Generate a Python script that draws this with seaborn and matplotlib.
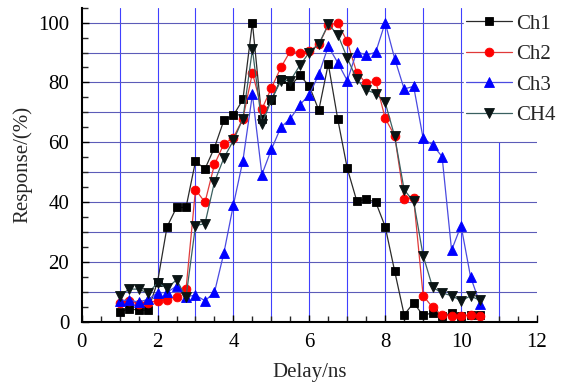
import numpy as np
import pandas as pd
import matplotlib
matplotlib.use("Agg")
import matplotlib.pyplot as plt
from matplotlib.ticker import MultipleLocator
import seaborn as sns

delay = [1.0, 1.25, 1.5, 1.75, 2.0, 2.25, 2.5, 2.75, 3.0, 3.25, 3.5, 3.75,
         4.0, 4.25, 4.5, 4.75, 5.0, 5.25, 5.5, 5.75, 6.0, 6.25, 6.5, 6.75,
         7.0, 7.25, 7.5, 7.75, 8.0, 8.25, 8.5, 8.75, 9.0, 9.25, 9.5, 9.75,
         10.0, 10.25, 10.5]

ch1 = [3.2, 4.4, 3.8, 3.9, 13.3, 31.7, 38.2, 38.2, 53.6, 51.1, 58.2, 67.4,
       69.0, 74.3, 100, 67.8, 74.1, 81.2, 78.8, 82.4, 78.8, 70.7, 86.2, 67.7,
       51.3, 40.4, 40.9, 40.0, 31.8, 16.9, 2.3, 6.3, 2.1, 3.0, 2.0, 2.9,
       2.0, 2.2, 2.4]
ch2 = [6.4, 6.8, 6.0, 6.4, 7.0, 7.4, 8.3, 10.8, 44.2, 39.9, 52.6, 59.5,
       61.5, 67.9, 83.2, 71.1, 78.1, 85.0, 90.5, 89.8, 90.5, 92.7, 99.2, 99.8,
       93.7, 83.3, 79.7, 80.5, 68.0, 62.2, 41.0, 41.3, 8.7, 4.8, 2.2, 2.0,
       1.8, 2.3, 1.9]
ch3 = [7.0, 7.3, 6.5, 7.5, 9.6, 9.8, 11.9, 8.3, 8.9, 7.0, 9.8, 23.1,
       39.1, 53.9, 76.0, 49.2, 57.6, 65.0, 67.9, 72.5, 75.9, 82.7, 92.1, 86.6,
       80.6, 90.3, 89.1, 90.1, 100, 88.0, 77.8, 78.7, 61.3, 59.1, 55.2, 23.9,
       32.1, 15.0, 6.0]
ch4 = [8.6, 10.9, 10.9, 9.5, 13.0, 11.2, 14.0, 8.2, 32.1, 32.8, 46.7, 54.8,
       60.6, 67.9, 91.1, 66.1, 74.1, 80.6, 80.6, 85.7, 90.0, 92.8, 99.4, 96.0,
       88.2, 81.0, 77.5, 76.3, 73.3, 62.0, 44.1, 40.2, 22.1, 11.5, 9.6, 8.7,
       7.0, 8.6, 7.1]

series_names = ["Ch1", "Ch2", "Ch3", "CH4"]
x_ticks = [0, 2, 4, 6, 8, 10, 12]
y_ticks = [0, 20, 40, 60, 80, 100]
x_grid = [1, 2, 3, 4, 5, 6, 7, 8, 9, 10, 11]
y_grid = [10, 20, 30, 40, 50, 60, 70, 80, 90, 100]

sns.set_style("ticks")
plt.rcParams["font.family"] = ["Liberation Serif", "DejaVu Serif"]
plt.rcParams["mathtext.fontset"] = "stix"

fig = plt.figure(figsize=(5.7, 3.86), dpi=100)
ax = fig.add_axes([0.1433, 0.1666, 0.7987, 0.8135])

# grid lines
for xv in x_grid:
    top = 1.0 if xv <= 10 else 60 / 105
    ax.axvline(xv, ymin=0, ymax=top, color="#4040ff", lw=0.8, zorder=0.5)
for yv in y_grid:
    ax.axhline(yv, color="#5c5cb8", lw=0.8, zorder=0.5)

styles = [
    dict(marker="s", color="#2a2a2a", mfc="black", mec="black", ms=5.5),
    dict(marker="o", color="#e03a3a", mfc="#ff0000", mec="#ff0000", ms=6.3),
    dict(marker="^", color="#4a4ae0", mfc="#0000ff", mec="#0000ff", ms=7.2),
    dict(marker="v", color="#3a6060", mfc="#0a1414", mec="#0a1414", ms=7.2),
]
for name, vals, st in zip(series_names, [ch1, ch2, ch3, ch4], styles):
    df = pd.DataFrame({"Delay": delay, "Response": vals})
    sns.lineplot(data=df, x="Delay", y="Response", ax=ax, label=name,
                 color=st["color"], marker=st["marker"],
                 markerfacecolor=st["mfc"], markeredgecolor=st["mec"],
                 markersize=st["ms"], markeredgewidth=0.6, linewidth=0.9)

ax.set_xlim(0, 12)
ax.set_ylim(0, 105)
ax.set_xticks(x_ticks)
ax.set_yticks(y_ticks)
ax.xaxis.set_minor_locator(MultipleLocator(0.5))
ax.yaxis.set_minor_locator(MultipleLocator(5))
ax.tick_params(which="major", direction="in", length=5, width=1.0,
               labelsize=15, pad=9, colors="black")
ax.tick_params(which="minor", direction="in", length=4, width=1.0)
ax.tick_params(axis="x", pad=8)

for s in ["top", "right"]:
    ax.spines[s].set_visible(False)
for s in ["left", "bottom"]:
    ax.spines[s].set_linewidth(1.5)
    ax.spines[s].set_color("black")

ax.set_xlabel("Delay/ns", fontsize=15, labelpad=8)
ax.set_ylabel("Response/(%)", fontsize=15, labelpad=4)

leg = ax.legend(loc="upper left", bbox_to_anchor=(463.7 / 570, 1 - 12 / 386),
                bbox_transform=fig.transFigure, borderaxespad=0,
                frameon=True, fancybox=False, framealpha=1.0,
                facecolor="white", edgecolor="white", fontsize=15,
                handlelength=2.2, handletextpad=0.2, labelspacing=0.52,
                borderpad=0.1)
leg.set_zorder(10)

fig.savefig("out.png", dpi=100)
